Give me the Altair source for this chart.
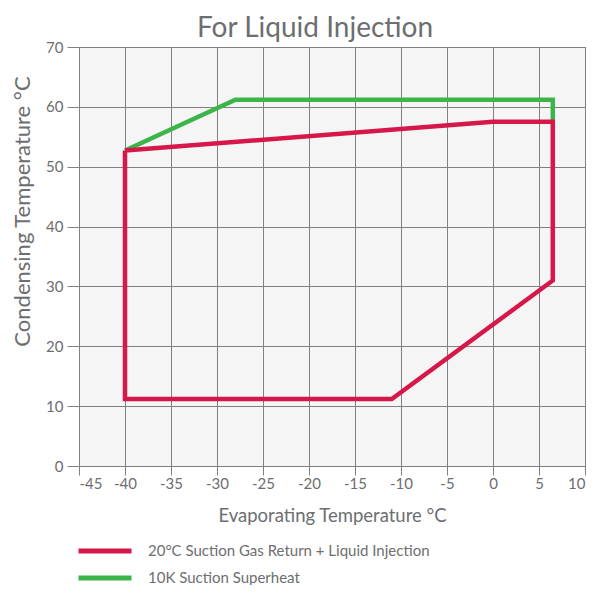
import altair as alt
import pandas as pd

series_names = ["20°C Suction Gas Return + Liquid Injection", "10K Suction Superheat"]
red_evap = [-40, 0, 6.5, 6.5, -11, -40, -40]
red_cond = [52.7, 57.5, 57.5, 31.0, 11.2, 11.2, 52.7]
green_evap = [-40, -28, 6.5, 6.5]
green_cond = [52.7, 61.2, 61.2, 57.5]
x_ticks = list(range(-45, 11, 5))
y_ticks = list(range(0, 71, 10))

rows = []
for i, (x, y) in enumerate(zip(red_evap, red_cond)):
    rows.append({"series": series_names[0], "order": i, "evap": x, "cond": y})
for i, (x, y) in enumerate(zip(green_evap, green_cond)):
    rows.append({"series": series_names[1], "order": i, "evap": x, "cond": y})
df = pd.DataFrame(rows)

FONT = "Lato"
GREY = "#6d6e70"

color = alt.Color(
    "series:N",
    scale=alt.Scale(domain=series_names, range=["#d6174a", "#3bb54a"]),
    legend=alt.Legend(
        title=None, orient="none", legendX=18, legendY=496, direction="vertical",
        symbolType="M-5,0L5,0", symbolSize=112.4, symbolStrokeWidth=5,
        labelFontSize=15, labelColor=GREY, labelFont=FONT, labelOffset=35,
        labelLimit=0, rowPadding=7, symbolOffset=0, padding=0,
    ),
)

x = alt.X("evap:Q", scale=alt.Scale(domain=[-45, 10], nice=False),
          axis=alt.Axis(values=x_ticks, title="Evaporating Temperature °C",
                        labelExpr="'' + datum.value"))
y = alt.Y("cond:Q", scale=alt.Scale(domain=[0, 70], nice=False),
          axis=alt.Axis(values=y_ticks, title="Condensing Temperature °C",
                        titleX=-50, titleY=164, titleBaseline="alphabetic"))

base = alt.Chart(df)
green = base.transform_filter(alt.datum.series == series_names[1]).mark_line(
    strokeWidth=4.5, strokeJoin="miter").encode(x=x, y=y, color=color, order="order:Q")
red = base.transform_filter(alt.datum.series == series_names[0]).mark_line(
    strokeWidth=4.5, strokeJoin="miter").encode(x=x, y=y, color=color, order="order:Q")

chart = alt.layer(green, red).properties(
    width=506, height=419,
    title=alt.Title("For Liquid Injection", fontSize=28, font=FONT, color=GREY,
                    fontWeight="normal", offset=-3, dx=-17),
    autosize=alt.AutoSizeParams(type="none"),
    padding={"left": 71, "top": 39, "right": 14, "bottom": 119},
).configure_view(
    fill="#f5f5f5", stroke="#777777", strokeWidth=1
).configure_axis(
    grid=True, gridColor="#808080", gridOpacity=1, gridWidth=1,
    domain=False, tickColor="#808080",
    labelFont=FONT, labelFontSize=15, labelColor=GREY,
    titleFont=FONT, titleColor=GREY, titleFontWeight="normal",
).configure_axisX(
    tickSize=9, labelPadding=1, titlePadding=15, titleFontSize=18.5
).configure_axisY(
    tickSize=12, labelPadding=4, titleFontSize=22
)

chart.save("out.html", embed_options={"renderer": "svg", "actions": False})
